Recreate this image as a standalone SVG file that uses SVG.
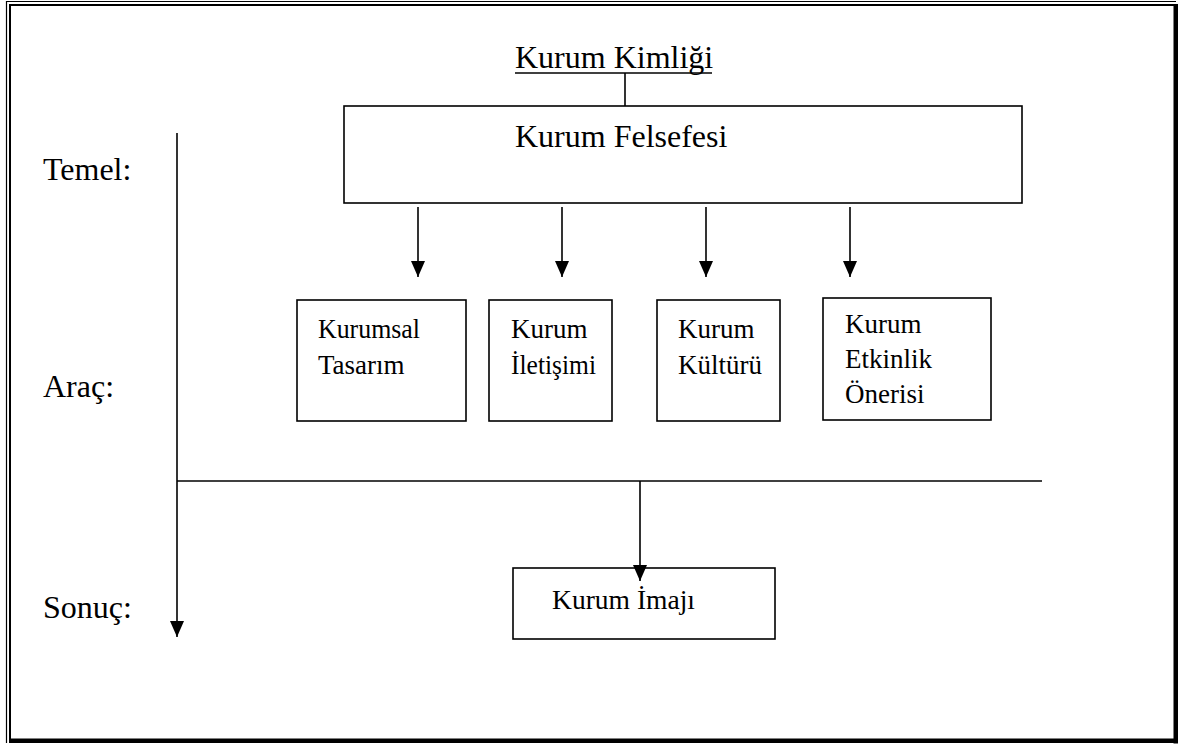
<svg xmlns="http://www.w3.org/2000/svg" width="1179" height="745" viewBox="0 0 1179 745">
<style>
text{font-family:"Liberation Serif","Times New Roman",serif;fill:#000}
.big{font-size:32px}
.mid{font-size:27px}
.box{fill:#fff;stroke:#000;stroke-width:1.6}
.ln{stroke:#000;stroke-width:1.6;fill:none}
</style>
<defs>
<marker id="arr" viewBox="0 0 16 14" refX="16" refY="7" markerWidth="16" markerHeight="14" orient="auto" markerUnits="userSpaceOnUse">
<path d="M0,0 L16,7 L0,14 z" fill="#000"/>
</marker>
</defs>
<rect width="1179" height="745" fill="#fff"/>
<g id="frame">
<path d="M6.5,743 V1.5 H1176" fill="none" stroke="#000" stroke-width="1.2"/>
<path d="M10,741 V5 H1175" fill="none" stroke="#000" stroke-width="2"/>
<rect x="1173.5" y="4" width="4.5" height="739.5" fill="#000"/>
<rect x="9" y="738.5" width="1169" height="4.5" fill="#000"/>
</g>
<g id="labels">
<text class="big" x="43" y="180">Temel:</text>
<text class="big" x="43" y="397">Araç:</text>
<text class="big" x="43" y="618">Sonuç:</text>
</g>
<g id="kimlik">
<text class="big" x="515" y="68">Kurum Kimliği</text>
<line x1="515" y1="73" x2="712" y2="73" stroke="#000" stroke-width="1.6"/>
</g>
<g id="felsefe">
<rect class="box" x="344" y="106" width="678" height="97"/>
<text class="big" x="515" y="147">Kurum Felsefesi</text>
</g>
<g id="tasarim">
<rect class="box" x="297" y="300" width="169" height="121"/>
<text class="mid" x="318" y="338" textLength="102" lengthAdjust="spacingAndGlyphs">Kurumsal</text>
<text class="mid" x="318" y="374">Tasarım</text>
</g>
<g id="iletisim">
<rect class="box" x="489" y="300" width="123" height="121"/>
<text class="mid" x="511" y="338">Kurum</text>
<text class="mid" x="511" y="374" textLength="85" lengthAdjust="spacingAndGlyphs">İletişimi</text>
</g>
<g id="kultur">
<rect class="box" x="657" y="300" width="123" height="121"/>
<text class="mid" x="678" y="338">Kurum</text>
<text class="mid" x="678" y="374">Kültürü</text>
</g>
<g id="etkinlik">
<rect class="box" x="823" y="298" width="168" height="122"/>
<text class="mid" x="845" y="333">Kurum</text>
<text class="mid" x="845" y="368">Etkinlik</text>
<text class="mid" x="845" y="403">Önerisi</text>
</g>
<g id="imaj">
<rect class="box" x="513" y="568" width="262" height="71"/>
<text class="mid" x="552" y="609" textLength="143" lengthAdjust="spacingAndGlyphs">Kurum İmajı</text>
</g>
<g id="connectors">
<line class="ln" x1="625" y1="73" x2="625" y2="106"/>
<line class="ln" x1="418" y1="207" x2="418" y2="277" marker-end="url(#arr)"/>
<line class="ln" x1="562" y1="207" x2="562" y2="277" marker-end="url(#arr)"/>
<line class="ln" x1="706" y1="207" x2="706" y2="277" marker-end="url(#arr)"/>
<line class="ln" x1="850" y1="207" x2="850" y2="277" marker-end="url(#arr)"/>
<line class="ln" x1="177" y1="133" x2="177" y2="637" marker-end="url(#arr)"/>
<line class="ln" x1="177" y1="481" x2="1042" y2="481"/>
<line class="ln" x1="640" y1="481" x2="640" y2="581" marker-end="url(#arr)"/>
</g>
</svg>
